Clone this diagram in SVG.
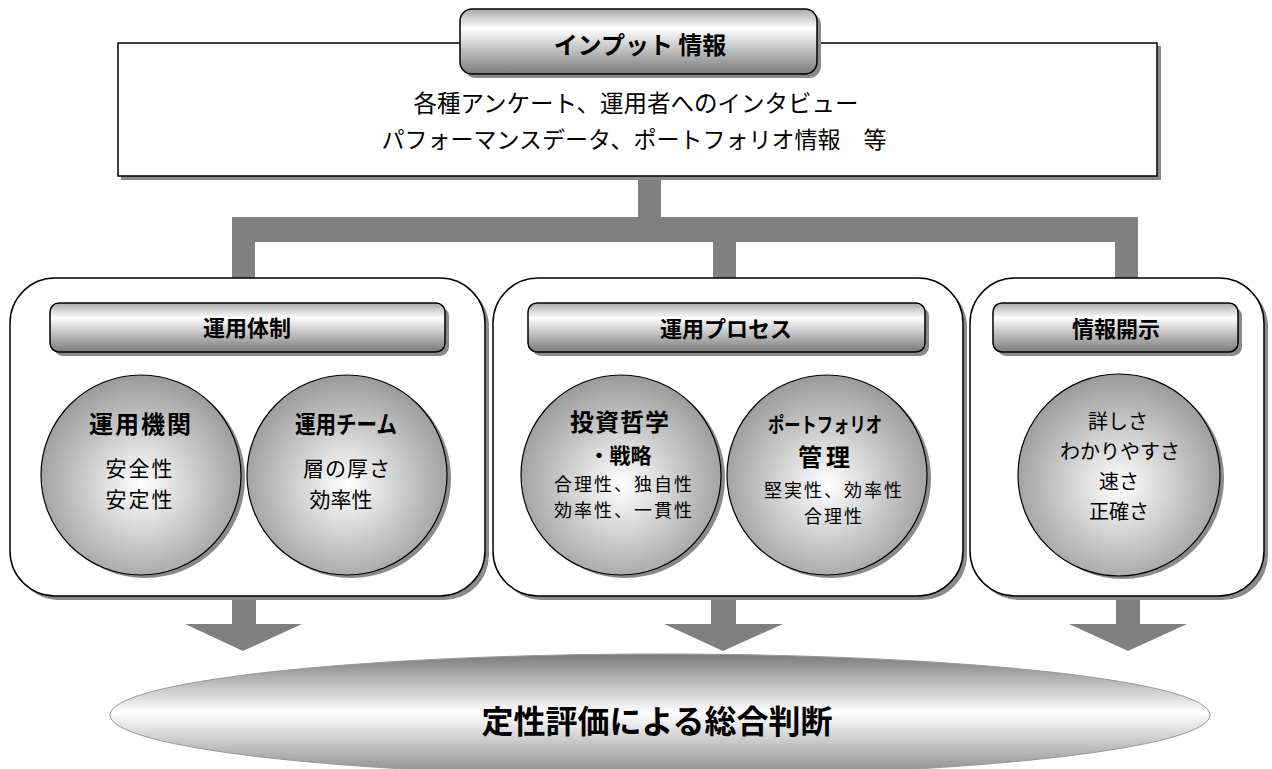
<svg xmlns="http://www.w3.org/2000/svg" width="1272" height="769" viewBox="0 0 1272 769">
<style>
.jp{font-family:"Noto Sans CJK JP","Noto Sans CJK SC",sans-serif;fill:#000;text-anchor:middle}
.b{font-weight:bold}
.panel{fill:#fff;stroke:#000;stroke-width:1.5}
.shadow{fill:#8a8a8a}
.pill{fill:url(#pillGrad);stroke:#000;stroke-width:1.5}
.ball{fill:url(#ballGrad);stroke:#000;stroke-width:1.2}
.bar{fill:#808080}
</style>
<defs>
<linearGradient id="pillGrad" x1="0" y1="0" x2="0" y2="1">
<stop offset="0" stop-color="#a8a8a8"/>
<stop offset="0.3" stop-color="#ffffff"/>
<stop offset="1" stop-color="#7a7a7a"/>
</linearGradient>
<radialGradient id="ballGrad" cx="0.5" cy="0.55" r="0.55">
<stop offset="0" stop-color="#ffffff"/>
<stop offset="1" stop-color="#9a9a9a"/>
</radialGradient>
<linearGradient id="ellGrad" x1="0" y1="0" x2="0" y2="1">
<stop offset="0" stop-color="#7a7a7a"/>
<stop offset="0.48" stop-color="#ffffff"/>
<stop offset="1" stop-color="#8a8a8a"/>
</linearGradient>
</defs>

<g id="connectors">
<rect class="bar" x="638" y="176" width="23" height="44"/>
<rect class="bar" x="232" y="217" width="905" height="25"/>
<rect class="bar" x="232" y="217" width="23" height="62"/>
<rect class="bar" x="713" y="217" width="23" height="62"/>
<rect class="bar" x="1115" y="217" width="23" height="62"/>
<polygon class="bar" points="232,598 256,598 256,624 302,624 243,651 185,624 232,624"/>
<polygon class="bar" points="711,598 736,598 736,624 783,624 723,651 664,624 711,624"/>
<polygon class="bar" points="1116,598 1140,598 1140,624 1187,624 1128,651 1069,624 1116,624"/>
</g>

<g id="input-info">
<rect class="shadow" x="121" y="46" width="1040" height="134"/>
<rect x="118" y="43" width="1039" height="133" fill="#fff" stroke="#000" stroke-width="1.5"/>
<rect class="shadow" x="464" y="13" width="357" height="65" rx="12"/>
<rect class="pill" x="460" y="9" width="357" height="65" rx="12"/>
<text class="jp b" x="640" y="54" font-size="24">インプット 情報</text>
<text class="jp" x="636" y="112" font-size="23.5">各種アンケート、運用者へのインタビュー</text>
<text class="jp" x="634" y="148" font-size="23">パフォーマンスデータ、ポートフォリオ情報　等</text>
</g>

<g id="panel-taisei">
<rect class="shadow" x="14" y="282" width="475" height="318" rx="45"/>
<rect class="panel" x="10" y="278" width="475" height="318" rx="45"/>
<rect class="shadow" x="54" y="307" width="395" height="49" rx="9"/>
<rect class="pill" x="50" y="303" width="395" height="49" rx="9"/>
<text class="jp b" x="247" y="336" font-size="22">運用体制</text>
</g>

<g id="ball-kikan">
<circle class="shadow" cx="145" cy="478" r="100"/>
<circle class="ball" cx="141" cy="475" r="100"/>
<text class="jp b" x="141" y="433" font-size="24" letter-spacing="2">運用機関</text>
<text class="jp" x="140" y="476" font-size="21" letter-spacing="2">安全性</text>
<text class="jp" x="140" y="507" font-size="21" letter-spacing="2">安定性</text>
</g>

<g id="ball-team">
<circle class="shadow" cx="351" cy="478" r="100"/>
<circle class="ball" cx="347" cy="475" r="100"/>
<text class="jp b" x="346" y="433" font-size="24" textLength="102" lengthAdjust="spacingAndGlyphs">運用チーム</text>
<text class="jp" x="347" y="476" font-size="21" letter-spacing="1">層の厚さ</text>
<text class="jp" x="341" y="507" font-size="21">効率性</text>
</g>

<g id="panel-process">
<rect class="shadow" x="497" y="282" width="470" height="318" rx="45"/>
<rect class="panel" x="493" y="278" width="470" height="318" rx="45"/>
<rect class="shadow" x="532" y="307" width="397" height="49" rx="9"/>
<rect class="pill" x="528" y="303" width="397" height="49" rx="9"/>
<text class="jp b" x="726" y="337" font-size="22">運用プロセス</text>
</g>

<g id="ball-tetsugaku">
<circle class="shadow" cx="625" cy="478" r="100"/>
<circle class="ball" cx="621" cy="475" r="100"/>
<text class="jp b" x="620" y="431" font-size="24" letter-spacing="1">投資哲学</text>
<text class="jp b" x="620" y="463" font-size="21">・戦略</text>
<text class="jp" x="624" y="491" font-size="18" letter-spacing="2">合理性、独自性</text>
<text class="jp" x="624" y="517" font-size="18" letter-spacing="2">効率性、一貫性</text>
</g>

<g id="ball-portfolio">
<circle class="shadow" cx="831" cy="478" r="100"/>
<circle class="ball" cx="827" cy="475" r="100"/>
<text class="jp b" x="825" y="432" font-size="21" textLength="114" lengthAdjust="spacingAndGlyphs">ポートフォリオ</text>
<text class="jp b" x="826" y="466" font-size="24" letter-spacing="4">管理</text>
<text class="jp" x="834" y="497" font-size="18" letter-spacing="2">堅実性、効率性</text>
<text class="jp" x="834" y="523" font-size="18" letter-spacing="2">合理性</text>
</g>

<g id="panel-kaiji">
<rect class="shadow" x="974" y="282" width="294" height="318" rx="45"/>
<rect class="panel" x="970" y="278" width="294" height="318" rx="45"/>
<rect class="shadow" x="997" y="307" width="245" height="49" rx="9"/>
<rect class="pill" x="993" y="303" width="245" height="49" rx="9"/>
<text class="jp b" x="1116" y="337" font-size="22">情報開示</text>
</g>

<g id="ball-kaiji">
<circle class="shadow" cx="1123" cy="478" r="101"/>
<circle class="ball" cx="1119" cy="475" r="101"/>
<text class="jp" x="1118" y="429" font-size="20">詳しさ</text>
<text class="jp" x="1120" y="459" font-size="20">わかりやすさ</text>
<text class="jp" x="1119" y="489" font-size="20">速さ</text>
<text class="jp" x="1119" y="519" font-size="20">正確さ</text>
</g>

<g id="sogo-handan">
<ellipse cx="660" cy="715" rx="550" ry="61" fill="url(#ellGrad)" stroke="#999" stroke-width="1"/>
<text class="jp b" x="657" y="733" font-size="32">定性評価による総合判断</text>
</g>
</svg>
